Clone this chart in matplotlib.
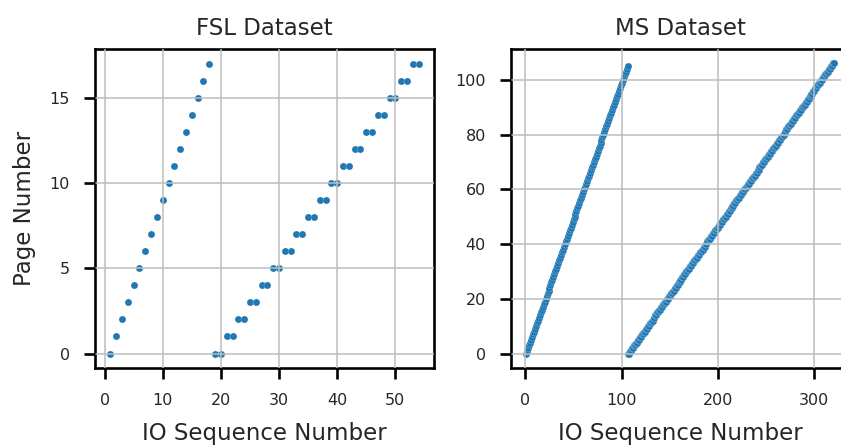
import numpy as np
import matplotlib
matplotlib.use("Agg")
import matplotlib.pyplot as plt

# FSL trace: page touched by each IO request (one pass of single reads,
# then a pass where every page is read twice)
fsl_pages = [
    0, 1, 2, 3, 4, 5, 6, 7, 8, 9, 10, 11, 12, 13, 14, 15, 16, 17,
    0, 0, 1, 1, 2, 2, 3, 3, 4, 4, 5, 5, 6, 6, 7, 7, 8, 8,
    9, 9, 10, 10, 11, 11, 12, 12, 13, 13, 14, 14, 15, 15, 16, 16, 17, 17,
]

# MS trace: same two-pass access pattern on a larger file
ms_pages_pass1 = [
    0, 1, 2, 3, 4, 5, 6, 7, 8, 9, 10, 11, 12, 13, 14, 15, 16, 17, 18, 19,
    20, 21, 22, 23, 24, 25, 26, 27, 28, 29, 30, 31, 32, 33, 34, 35, 36, 37, 38, 39,
    40, 41, 42, 43, 44, 45, 46, 47, 48, 49, 50, 51, 52, 53, 54, 55, 56, 57, 58, 59,
    60, 61, 62, 63, 64, 65, 66, 67, 68, 69, 70, 71, 72, 73, 74, 75, 76, 77, 78, 79,
    80, 81, 82, 83, 84, 85, 86, 87, 88, 89, 90, 91, 92, 93, 94, 95, 96, 97, 98, 99,
    100, 101, 102, 103, 104, 105,
]
ms_pages_pass2 = [
    0, 0, 1, 1, 2, 2, 3, 3, 4, 4, 5, 5, 6, 6, 7, 7, 8, 8, 9, 9,
    10, 10, 11, 11, 12, 12, 13, 13, 14, 14, 15, 15, 16, 16, 17, 17, 18, 18, 19, 19,
    20, 20, 21, 21, 22, 22, 23, 23, 24, 24, 25, 25, 26, 26, 27, 27, 28, 28, 29, 29,
    30, 30, 31, 31, 32, 32, 33, 33, 34, 34, 35, 35, 36, 36, 37, 37, 38, 38, 39, 39,
    40, 40, 41, 41, 42, 42, 43, 43, 44, 44, 45, 45, 46, 46, 47, 47, 48, 48, 49, 49,
    50, 50, 51, 51, 52, 52, 53, 53, 54, 54, 55, 55, 56, 56, 57, 57, 58, 58, 59, 59,
    60, 60, 61, 61, 62, 62, 63, 63, 64, 64, 65, 65, 66, 66, 67, 67, 68, 68, 69, 69,
    70, 70, 71, 71, 72, 72, 73, 73, 74, 74, 75, 75, 76, 76, 77, 77, 78, 78, 79, 79,
    80, 80, 81, 81, 82, 82, 83, 83, 84, 84, 85, 85, 86, 86, 87, 87, 88, 88, 89, 89,
    90, 90, 91, 91, 92, 92, 93, 93, 94, 94, 95, 95, 96, 96, 97, 97, 98, 98, 99, 99,
    100, 100, 101, 101, 102, 102, 103, 103, 104, 104, 105, 105, 106, 106,
]
ms_pages = ms_pages_pass1 + ms_pages_pass2

titles = ["FSL Dataset", "MS Dataset"]
xlabel = "IO Sequence Number"
ylabel = "Page Number"

text_color = "#262626"
point_color = "#1f77b4"

plt.rcParams.update({
    "font.family": ["DejaVu Sans"],
    "text.color": text_color,
    "axes.labelcolor": text_color,
    "xtick.color": text_color,
    "ytick.color": text_color,
})

fig = plt.figure(figsize=(8.41, 4.48), dpi=100)
ax_l = fig.add_axes([95 / 841, 80 / 448, 339 / 841, 319 / 448])
ax_r = fig.add_axes([511 / 841, 80 / 448, 338 / 841, 319 / 448])

for ax, pages, title in zip([ax_l, ax_r], [fsl_pages, ms_pages], titles):
    seq = np.arange(1, len(pages) + 1)
    ax.scatter(seq, pages, s=26, color=point_color, edgecolor="white",
               linewidth=0.15, zorder=1)
    ax.set_axisbelow(False)
    ax.grid(True, color="#bdbdbd", linewidth=1.1)
    ax.set_title(title, fontsize=16.5, pad=10)
    ax.set_xlabel(xlabel, fontsize=16.5, labelpad=10)
    ax.tick_params(axis="both", which="major", labelsize=11.5, length=8,
                   width=1.9, pad=10, color="black")
    for sp in ax.spines.values():
        sp.set_linewidth(1.9)
        sp.set_color("black")

ax_l.set_ylabel(ylabel, fontsize=16.5, labelpad=10)
ax_l.set_xticks([0, 10, 20, 30, 40, 50])
ax_l.set_yticks([0, 5, 10, 15])
ax_r.set_xticks([0, 100, 200, 300])
ax_r.set_yticks([0, 20, 40, 60, 80, 100])

fig.savefig("out.png", dpi=100)
